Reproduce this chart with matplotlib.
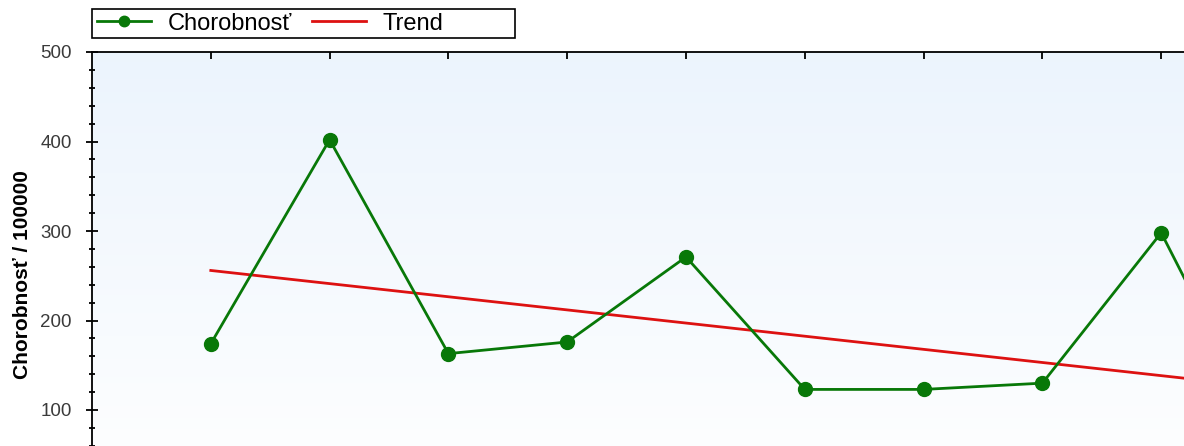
import numpy as np
import matplotlib.pyplot as plt
from matplotlib import patches
from matplotlib.ticker import MultipleLocator

plt.rcParams['font.family'] = ['Liberation Sans', 'DejaVu Sans']

# data (10th point lies outside the visible area)
periods = [1, 2, 3, 4, 5, 6, 7, 8, 9, 10]
morbidity = [174, 402, 163, 176, 271, 123, 123, 130, 298, 38]

W, H = 1184, 446
fig = plt.figure(figsize=(W / 100, H / 100), dpi=100)

# axes deliberately larger than the figure: the reference is a crop
x0, y_top, unit_x, y_zero = 92, 52, 118.8, 499.5
ax_w = 11 * unit_x
ax = fig.add_axes([x0 / W, (H - y_zero) / H, ax_w / W, (y_zero - y_top) / H])

# light blue vertical gradient background
grad = np.linspace(0, 1, 256).reshape(-1, 1)
top_c = np.array([0.925, 0.957, 0.992])
bot_c = np.array([1.0, 1.0, 1.0])
img = top_c * (1 - grad[..., None]) + bot_c * grad[..., None]
ax.imshow(img, extent=[0, 1, 0, 1], transform=ax.transAxes, aspect='auto', zorder=0)

x = np.array(periods)
y = np.array(morbidity)
k, q = np.polyfit(x, y, 1)

ax.plot(x, k * x + q, color='#dd1111', lw=2.0, label='Trend', zorder=2)
ax.plot(x, y, color='#087808', lw=2.0, marker='o', ms=10, label='Chorobnosť', zorder=3)

ax.set_xlim(0, 11)
ax.set_ylim(0, 500)

ax.spines['right'].set_visible(False)
ax.spines['bottom'].set_visible(False)
ax.spines['left'].set_linewidth(1.3)
ax.spines['top'].set_linewidth(1.3)

ax.set_xticks(periods)
ax.tick_params(axis='x', top=True, bottom=False, labeltop=False, labelbottom=False,
               direction='in', length=5, width=1.3)
ax.set_yticks([100, 200, 300, 400, 500])
ax.yaxis.set_minor_locator(MultipleLocator(20))
ax.tick_params(axis='y', which='major', direction='inout', length=9, width=1.3,
               labelsize=13.5, labelcolor='#3a3a3a', pad=10)
ax.tick_params(axis='y', which='minor', direction='inout', length=5, width=1.3)

ax.set_ylabel('Chorobnosť / 100000', fontsize=15, fontweight='bold')
ax.yaxis.set_label_coords(-60 / ax_w, 0.502)

# legend without its own frame, boxed by a wider rectangle like the reference
h, l = ax.get_legend_handles_labels()
leg = fig.legend(h[::-1], l[::-1], loc='center left', ncol=2,
                 bbox_to_anchor=(97 / W, 1 - 23.5 / H), fontsize=17,
                 frameon=False, borderpad=0, handlelength=2.3, columnspacing=0.85,
                 handletextpad=0.68, borderaxespad=0, markerscale=0.75)
box = patches.Rectangle((92 / W, 1 - 38 / H), (515 - 92) / W, 29 / H,
                        transform=fig.transFigure, fill=False,
                        edgecolor='black', linewidth=1.2)
fig.patches.append(box)

fig.savefig('out.png', dpi=100)
